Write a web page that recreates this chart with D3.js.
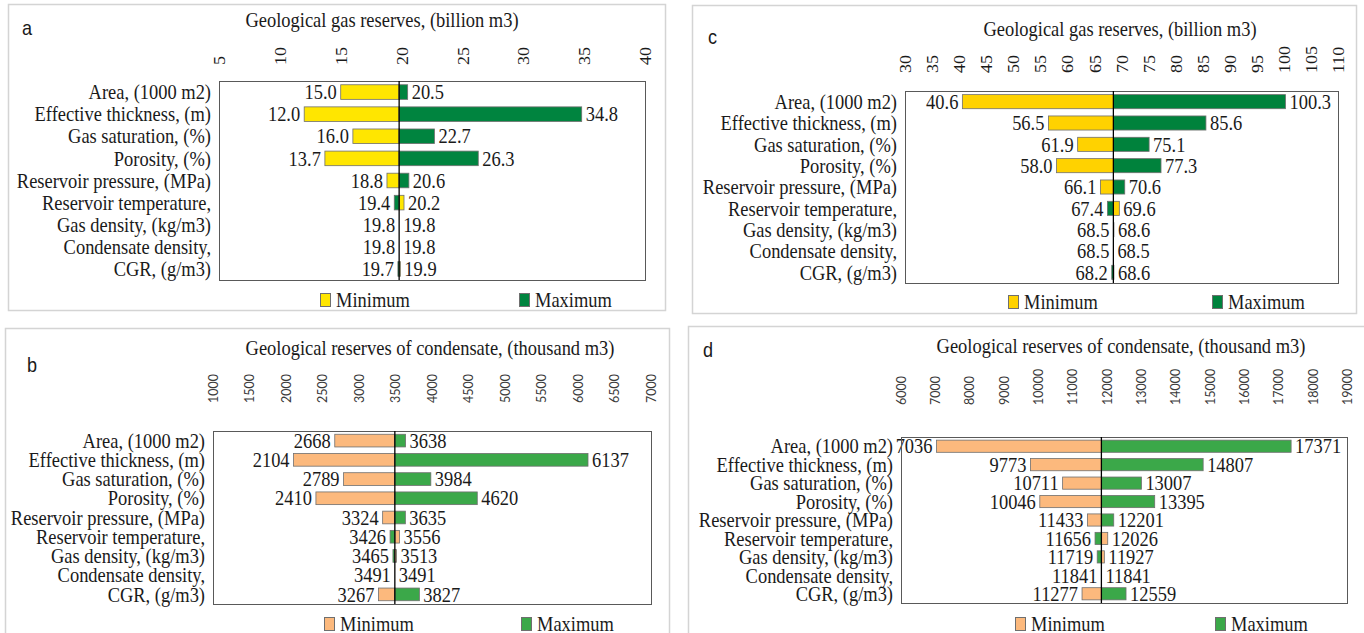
<!DOCTYPE html>
<html>
<head>
<meta charset="utf-8">
<script src="https://cdn.jsdelivr.net/npm/d3@7"></script>
<style>
  body { margin: 0; background: #fff; }
  svg { display: block; }
</style>
</head>
<body>
<svg id="chart" width="1364" height="633"></svg>
<script>
// Sensitivity (tornado) charts of geological reserves

const categories = [
  "Area, (1000 m2)",
  "Effective thickness, (m)",
  "Gas saturation, (%)",
  "Porosity, (%)",
  "Reservoir pressure, (MPa)",
  "Reservoir temperature,",
  "Gas density, (kg/m3)",
  "Condensate density,",
  "CGR, (g/m3)"
];

const legendLabels = ["Minimum", "Maximum"];

// a: gas reserves, field 1 (billion m3)
const gasTitle = "Geological gas reserves, (billion m3)";
const gasBaseA = 19.8;
const gasMinA = [15.0, 12.0, 16.0, 13.7, 18.8, 20.2, 19.8, 19.8, 19.9];
const gasMaxA = [20.5, 34.8, 22.7, 26.3, 20.6, 19.4, 19.8, 19.8, 19.7];
const gasTicksA = [5, 10, 15, 20, 25, 30, 35, 40];

// c: gas reserves, field 2 (billion m3)
const gasBaseC = 68.5;
const gasMinC = [40.6, 56.5, 61.9, 58.0, 66.1, 69.6, 68.5, 68.5, 68.6];
const gasMaxC = [100.3, 85.6, 75.1, 77.3, 70.6, 67.4, 68.6, 68.5, 68.2];
const gasTicksC = [30, 35, 40, 45, 50, 55, 60, 65, 70, 75, 80, 85, 90, 95, 100, 105, 110];

// b: condensate reserves, field 1 (thousand m3)
const condTitle = "Geological reserves of condensate, (thousand m3)";
const condBaseB = 3491;
const condMinB = [2668, 2104, 2789, 2410, 3324, 3556, 3513, 3491, 3267];
const condMaxB = [3638, 6137, 3984, 4620, 3635, 3426, 3465, 3491, 3827];
const condTicksB = [1000, 1500, 2000, 2500, 3000, 3500, 4000, 4500, 5000, 5500, 6000, 6500, 7000];

// d: condensate reserves, field 2 (thousand m3)
const condBaseD = 11841;
const condMinD = [7036, 9773, 10711, 10046, 11433, 12026, 11927, 11841, 11277];
const condMaxD = [17371, 14807, 13007, 13395, 12201, 11656, 11719, 11841, 12559];
const condTicksD = [6000, 7000, 8000, 9000, 10000, 11000, 12000, 13000, 14000, 15000, 16000, 17000, 18000, 19000];

const SERIF = "'Liberation Serif', 'Times New Roman', serif";
const SANS = "'Liberation Sans', Arial, sans-serif";
const TICK_SANS = "Lato, 'Open Sans', sans-serif";
const INK = "#1a1a1a";
const FS = 20.5;      // body text size
const NARROW = 0.9;   // horizontal squeeze applied to the tall serif lettering

const panels = [
  {
    letter: "a", letterPos: [22, 35], frame: [8.5, 4.5, 657, 306],
    title: gasTitle, titlePos: [382, 27],
    plot: { x0: 219, x1: 645, y0: 81, y1: 280 },
    tickBottom: 65, tickFont: SERIF, tickSize: 16, tickStretch: 1.12, tickColor: INK,
    domain: [5, 40], ticks: gasTicksA,
    base: gasBaseA, mins: gasMinA, maxs: gasMaxA, fmt: d3.format(".1f"),
    colors: ["#FFE600", "#00843F"],
    legend: { y: 300, xs: [320, 519] }
  },
  {
    letter: "c", letterPos: [708, 44], frame: [692.5, 5.5, 664, 308],
    title: gasTitle, titlePos: [1120, 36],
    plot: { x0: 905, x1: 1338, y0: 91, y1: 283 },
    tickBottom: 73, tickFont: SERIF, tickSize: 16, tickStretch: 1.12, tickColor: INK,
    domain: [30, 110], ticks: gasTicksC,
    base: gasBaseC, mins: gasMinC, maxs: gasMaxC, fmt: d3.format(".1f"),
    colors: ["#FFD200", "#00823C"],
    legend: { y: 302, xs: [1008, 1212] }
  },
  {
    letter: "b", letterPos: [27, 372], frame: [5.5, 328.5, 664, 320],
    title: condTitle, titlePos: [430, 355],
    plot: { x0: 213, x1: 651, y0: 431, y1: 604 },
    tickBottom: 403, tickFont: TICK_SANS, tickSize: 12.5, tickStretch: 1, tickColor: "#3a3a3a",
    domain: [1000, 7000], ticks: condTicksB,
    base: condBaseB, mins: condMinB, maxs: condMaxB, fmt: d3.format("d"),
    colors: ["#FCB97D", "#3BA849"],
    legend: { y: 624, xs: [324, 521] }
  },
  {
    letter: "d", letterPos: [703, 357], frame: [688.5, 326.5, 680, 320],
    title: condTitle, titlePos: [1121, 353],
    plot: { x0: 901, x1: 1347, y0: 437, y1: 603 },
    tickBottom: 405, tickFont: TICK_SANS, tickSize: 12.5, tickStretch: 1, tickColor: "#3a3a3a",
    domain: [6000, 19000], ticks: condTicksD,
    base: condBaseD, mins: condMinD, maxs: condMaxD, fmt: d3.format("d"),
    colors: ["#FCB97D", "#3BA849"],
    legend: { y: 624, xs: [1015, 1215] }
  }
];

const svg = d3.select("#chart");
const at = (x, y) => `translate(${x},${y}) scale(${NARROW},1)`;

function drawPanel(p) {
  const g = svg.append("g");

  // panel frame
  g.append("rect")
    .attr("x", p.frame[0]).attr("y", p.frame[1])
    .attr("width", p.frame[2]).attr("height", p.frame[3])
    .attr("fill", "none").attr("stroke", "#d4d4d4").attr("stroke-width", 1.5);

  g.append("text")
    .attr("transform", `translate(${p.letterPos[0]},${p.letterPos[1]}) scale(0.95,1.1)`)
    .attr("font-family", SANS).attr("font-size", 19).attr("fill", INK)
    .text(p.letter);

  g.append("text")
    .attr("transform", at(p.titlePos[0], p.titlePos[1]))
    .attr("text-anchor", "middle")
    .attr("font-family", SERIF).attr("font-size", FS).attr("fill", INK)
    .text(p.title);

  const { x0, x1, y0, y1 } = p.plot;
  const x = d3.scaleLinear().domain(p.domain).range([x0, x1]);
  const y = d3.scaleBand().domain(categories).range([y0, y1]).paddingInner(0.34).paddingOuter(0.17);

  // rotated tick labels above the plot
  const axis = g.append("g")
    .attr("transform", `translate(0,${p.tickBottom})`)
    .call(d3.axisTop(x).tickValues(p.ticks).tickSize(0).tickPadding(0).tickFormat(d3.format("d")));
  axis.select(".domain").remove();
  axis.selectAll("text")
    .attr("transform", `rotate(-90) scale(${p.tickStretch},1)`)
    .attr("x", 0).attr("y", 0).attr("dy", "0.35em")
    .attr("text-anchor", "start")
    .attr("font-family", p.tickFont).attr("font-size", p.tickSize)
    .attr("fill", p.tickColor);

  // category labels
  g.append("g").selectAll("text")
    .data(categories)
    .join("text")
    .attr("transform", d => at(x0 - 8, y(d) + y.bandwidth() / 2))
    .attr("dy", "0.35em")
    .attr("text-anchor", "end")
    .attr("font-family", SERIF).attr("font-size", FS).attr("fill", INK)
    .text(d => d);

  const rows = [];
  categories.forEach((c, i) => {
    rows.push({ cat: c, v: p.mins[i], series: 0 });
    rows.push({ cat: c, v: p.maxs[i], series: 1 });
  });

  g.append("g").selectAll("rect")
    .data(rows)
    .join("rect")
    .attr("x", d => x(Math.min(d.v, p.base)))
    .attr("y", d => y(d.cat))
    .attr("width", d => Math.abs(x(d.v) - x(p.base)))
    .attr("height", y.bandwidth())
    .attr("fill", d => p.colors[d.series])
    .attr("stroke", "#6f6f6f").attr("stroke-width", 0.8);

  // value labels sit beyond the end of each bar
  const goesLeft = d => d.series === 0 ? d.v <= p.base : d.v < p.base;
  g.append("g").selectAll("text")
    .data(rows)
    .join("text")
    .attr("transform", d => at(goesLeft(d) ? x(d.v) - 4 : x(d.v) + 4, y(d.cat) + y.bandwidth() / 2))
    .attr("dy", "0.35em")
    .attr("text-anchor", d => goesLeft(d) ? "end" : "start")
    .attr("font-family", SERIF).attr("font-size", FS).attr("fill", INK)
    .text(d => p.fmt(d.v));

  g.append("rect")
    .attr("x", x0 + 0.5).attr("y", y0 + 0.5)
    .attr("width", x1 - x0).attr("height", y1 - y0)
    .attr("fill", "none").attr("stroke", "#595959").attr("stroke-width", 1);

  g.append("line")
    .attr("x1", x(p.base)).attr("x2", x(p.base))
    .attr("y1", y0).attr("y2", y1)
    .attr("stroke", "#000").attr("stroke-width", 1.3);

  // legend
  const lg = g.append("g").selectAll("g")
    .data(legendLabels)
    .join("g")
    .attr("transform", (d, i) => `translate(${p.legend.xs[i]},${p.legend.y})`);
  lg.append("rect")
    .attr("x", 0.5).attr("y", -6.5).attr("width", 10).attr("height", 13)
    .attr("fill", (d, i) => p.colors[i])
    .attr("stroke", "#6f6f6f").attr("stroke-width", 1);
  lg.append("text")
    .attr("transform", at(16, 0))
    .attr("dy", "0.35em")
    .attr("font-family", SERIF).attr("font-size", FS).attr("fill", INK)
    .text(d => d);
}

panels.forEach(drawPanel);
</script>
</body>
</html>
